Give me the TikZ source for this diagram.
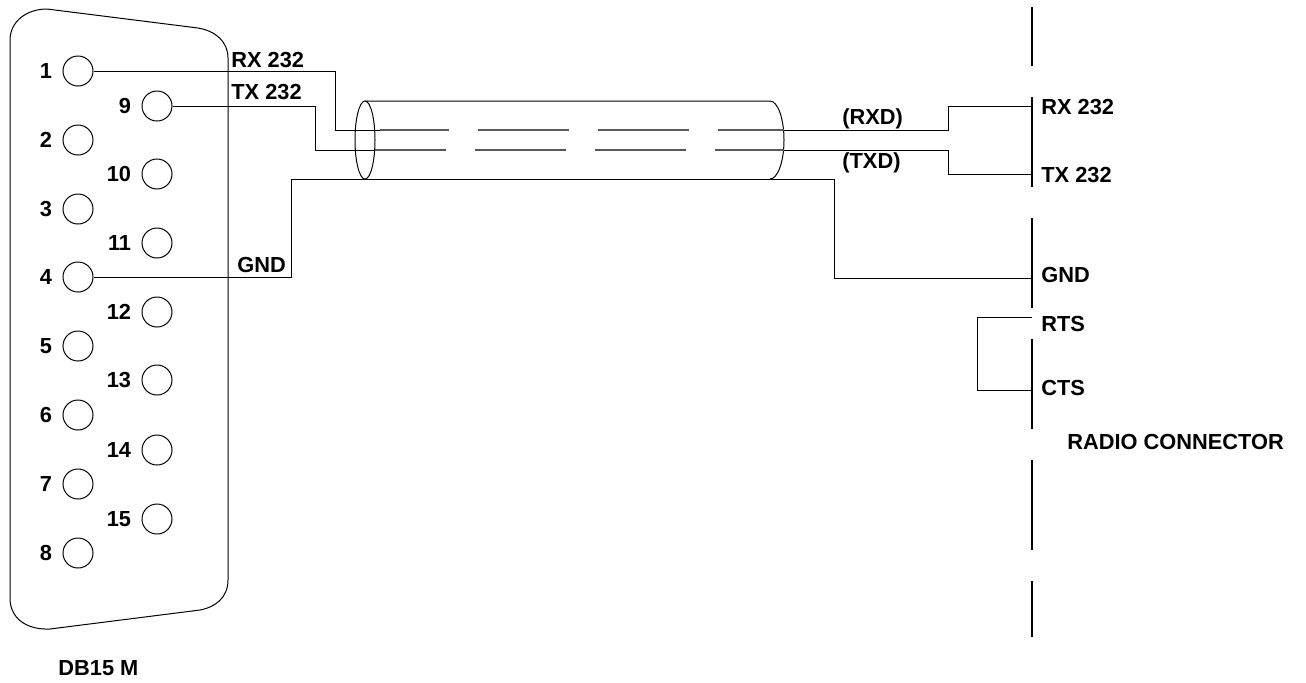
\documentclass[tikz,border=0pt]{standalone}
\usepackage{fontspec}
\setmainfont{Liberation Sans}

\def \colA {78}
\def \colB {157}

\tikzset{
  wire/.style={line width=0.5pt},
  shield/.style={line width=0.7pt, black!65, dash pattern=on 45.5pt off 14.5pt, dash phase=11pt},
  rail/.style={line width=0.6pt, dash pattern=on 45pt off 15.5pt, dash phase=15.5pt},
  lbl/.style={font=\fontsize{10.9}{13}\selectfont\bfseries, inner sep=0pt},
  num/.style={lbl, xshift=-5pt},
  hole/.style={circle, draw, line width=0.5pt, minimum size=15pt, inner sep=0pt}
}

\begin{document}
\begin{tikzpicture}[x=0.5pt, y=-0.5pt]
   \useasboundingbox (0,0) rectangle (1306,682);

   \draw[wire] (10,40) .. controls (10,22) and (26,9) .. (47,9) -- (198,28)
      .. controls (216,31) and (228,42) .. (228,58) -- (228,580)
      .. controls (228,597) and (216,607) .. (200,610) -- (50,629)
      .. controls (26,630) and (10,618) .. (10,598) -- cycle;

   \node[hole, label={[num]left:1}] (p1) at (\colA, 71) {};
   \node[hole, label={[num]left:2}] (p2) at (\colA, 140) {};
   \node[hole, label={[num]left:3}] (p3) at (\colA, 209) {};
   \node[hole, label={[num]left:4}] (p4) at (\colA, 277) {};
   \node[hole, label={[num]left:5}] (p5) at (\colA, 346) {};
   \node[hole, label={[num]left:6}] (p6) at (\colA, 415) {};
   \node[hole, label={[num]left:7}] (p7) at (\colA, 484) {};
   \node[hole, label={[num]left:8}] (p8) at (\colA, 553) {};
   \node[hole, label={[num]left:9}] (p9) at (\colB, 106) {};
   \node[hole, label={[num]left:10}] (p10) at (\colB, 174) {};
   \node[hole, label={[num]left:11}] (p11) at (\colB, 243) {};
   \node[hole, label={[num]left:12}] (p12) at (\colB, 312) {};
   \node[hole, label={[num]left:13}] (p13) at (\colB, 380) {};
   \node[hole, label={[num]left:14}] (p14) at (\colB, 450) {};
   \node[hole, label={[num]left:15}] (p15) at (\colB, 519) {};
   \node[lbl, anchor=west] (db) at (58,668) {DB15 M};

   \node[lbl, anchor=west] (rxl) at (231,60) {RX 232};
   \node[lbl, anchor=west] (txl) at (231,92) {TX 232};
   \node[lbl, anchor=west] (gndl) at (237,265) {GND};

   \draw[wire] (365,140) ellipse [x radius=10, y radius=39];
   \draw[wire] (365,101) -- (770,101) arc[start angle=-90, end angle=90, x radius=14, y radius=39];

   \coordinate (rxin) at (380,130);
   \coordinate (rxout) at (784,130);
   \coordinate (txin) at (375,150);
   \coordinate (txout) at (784,150);
   \coordinate (rrx) at (1032,106);
   \coordinate (rtx) at (1032,174);
   \coordinate (rgnd) at (1032,278);
   \coordinate (rrts) at (1032,317);
   \coordinate (rcts) at (1032,390);

   \draw[wire] (p1.east) -| (335,130) -- (rxin);
   \draw[shield] (rxin) -- (rxout);
   \draw[wire] (rxout) -- (948,130) |- (rrx);
   \draw[wire] (p9.east) -| (315,150) -- (txin);
   \draw[shield, dash phase=10pt] (txin) -- (txout);
   \draw[wire] (txout) -- (948,150) |- (rtx);
   \draw[wire] (p4.east) -| (291,179) -- (834,179) |- (rgnd);
   \draw[wire] (rrts) -- (977,317) |- (rcts);

   \draw[rail] (1032,7) -- (1032,637);

   \node[lbl, anchor=west] (rxd) at (842,119) {(RXD)};
   \node[lbl, anchor=west] (txd) at (842,163) {(TXD)};
   \node[lbl, anchor=west] (rrxl) at (1041,107) {RX 232};
   \node[lbl, anchor=west] (rtxl) at (1041,175) {TX 232};
   \node[lbl, anchor=west] (rgndl) at (1041,275) {GND};
   \node[lbl, anchor=west] (rrtsl) at (1041,324) {RTS};
   \node[lbl, anchor=west] (rctsl) at (1041,388) {CTS};
   \node[lbl, anchor=west] (radio) at (1067,442) {RADIO CONNECTOR};
\end{tikzpicture}
\end{document}
